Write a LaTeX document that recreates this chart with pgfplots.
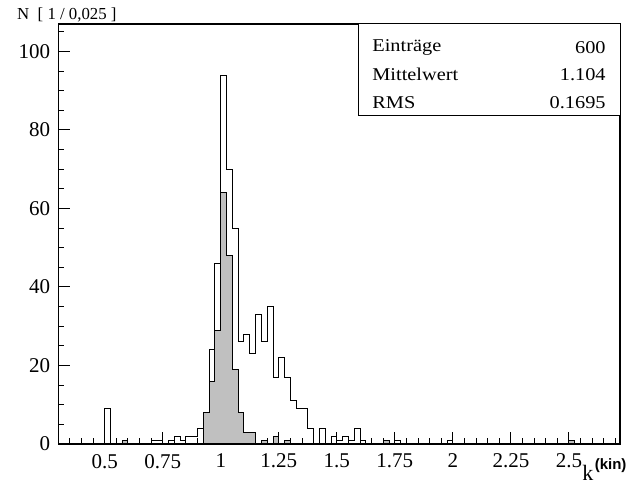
\documentclass[border=0pt]{standalone}
\usepackage{pgfplots}
\pgfplotsset{compat=1.18}
\usepackage{fontspec}
\setmainfont{Liberation Serif}
\newfontfamily\labsans{Liberation Sans}
\definecolor{histgray}{RGB}{192,192,192}
\newcommand{\sx}[1]{\scalebox{1.13}[1]{#1}}
\begin{document}
\begin{tikzpicture}
\begin{axis}[
  name=ax, at={(0,0)}, anchor=south west,
  scale only axis, width=280.85pt, height=210pt,
  xmin=0.3, xmax=2.72, ymin=0, ymax=107,
  xtick={0.5,0.75,1,1.25,1.5,1.75,2,2.25,2.5},
  xticklabels={0.5,0.75,1,1.25,1.5,1.75,2,2.25,2.5},
  minor xtick={0.35,0.4,0.45,0.55,0.6,0.65,0.7,0.8,0.85,0.9,0.95,1.05,1.1,1.15,1.2,1.3,1.35,1.4,1.45,1.55,1.6,1.65,1.7,1.8,1.85,1.9,1.95,2.05,2.1,2.15,2.2,2.3,2.35,2.4,2.45,2.55,2.6,2.65,2.7},
  ytick={0,20,40,60,80,100},
  yticklabels={0,20,40,60,80,100},
  minor ytick={5,10,15,25,30,35,45,50,55,65,70,75,85,90,95,105},
  tick pos=left, tick align=inside,
  major tick length=6pt, minor tick length=3pt,
  tick style={black, line width=0.5pt},
  axis line style={line width=0.6pt},
  ticklabel style={font=\fontsize{10.5}{12}\selectfont},
  /pgf/number format/assume math mode=true,
  xticklabel style={yshift=-1.5pt},
  yticklabel style={xshift=-0.5pt},
  clip=false,
]
\addplot[const plot, fill=histgray, draw=black, line width=0.5pt] coordinates {
(0.3,0) (0.575,1) (0.6,0) (0.925,8) (0.95,16) (0.975,29) (1.0,64) (1.025,48)
(1.05,19) (1.075,8) (1.1,3) (1.125,3) (1.15,0) (1.175,1) (1.2,0) (1.225,2)
(1.25,0) (1.275,1) (1.3,0) (1.7,1) (1.725,0) (2.5,1) (2.525,0) (2.72,0)
} \closedcycle;
\addplot[const plot, draw=black, line width=0.5pt] coordinates {
(0.3,0) (0.5,9) (0.525,0) (0.575,1) (0.6,0) (0.7,1) (0.75,0) (0.775,1) (0.8,2)
(0.825,1) (0.85,2) (0.9,4) (0.925,8) (0.95,24) (0.975,46) (1.0,94) (1.025,70)
(1.05,55) (1.075,26) (1.1,28) (1.125,23) (1.15,33) (1.175,26) (1.2,35) (1.225,17)
(1.25,22) (1.275,17) (1.3,11) (1.325,9) (1.375,4) (1.4,0) (1.425,4) (1.45,0)
(1.475,2) (1.5,1) (1.525,2) (1.55,1) (1.575,4) (1.6,1) (1.625,0) (1.7,1)
(1.725,0) (1.75,1) (1.775,0) (1.975,1) (2.0,0) (2.5,1) (2.525,0) (2.72,0)
};
\draw[line width=1pt] (rel axis cs:0,0) -- (rel axis cs:1,0);
\draw[fill=white, line width=0.5pt] (rel axis cs:0.5336,0.781) rectangle (rel axis cs:1,1);
\begin{scope}[every node/.style={font=\fontsize{9}{11}\selectfont, inner sep=0pt}]
\node[anchor=west] at (rel axis cs:0.5585,0.943) {\sx{Einträge}};
\node[anchor=east] at (rel axis cs:0.9751,0.943) {\sx{600}};
\node[anchor=west] at (rel axis cs:0.5585,0.879) {\sx{Mittelwert}};
\node[anchor=east] at (rel axis cs:0.9751,0.879) {\sx{1.104}};
\node[anchor=west] at (rel axis cs:0.5585,0.812) {\sx{RMS}};
\node[anchor=east] at (rel axis cs:0.9751,0.812) {\sx{0.1695}};
\end{scope}
\end{axis}
\node[font=\fontsize{8.4}{10}\selectfont, inner sep=0pt] at ([shift={(4.3pt,4.6pt)}]ax.north west) {N\ \ [ 1 / 0,025 ]};
\node[font=\fontsize{11}{13}\selectfont, inner sep=0pt, anchor=base west] (kk) at ([shift={(-19pt,-18pt)}]ax.south east) {k};
\node[font=\labsans\bfseries\fontsize{7.5}{9}\selectfont, inner sep=0pt, anchor=base west] at ([shift={(0.3pt,5.5pt)}]kk.base east) {(kin)};
\pgfresetboundingbox
\path ([shift={(-29.15pt,-19.5pt)}]ax.south west) rectangle ([shift={(3pt,12pt)}]ax.north east);
\end{tikzpicture}
\end{document}
